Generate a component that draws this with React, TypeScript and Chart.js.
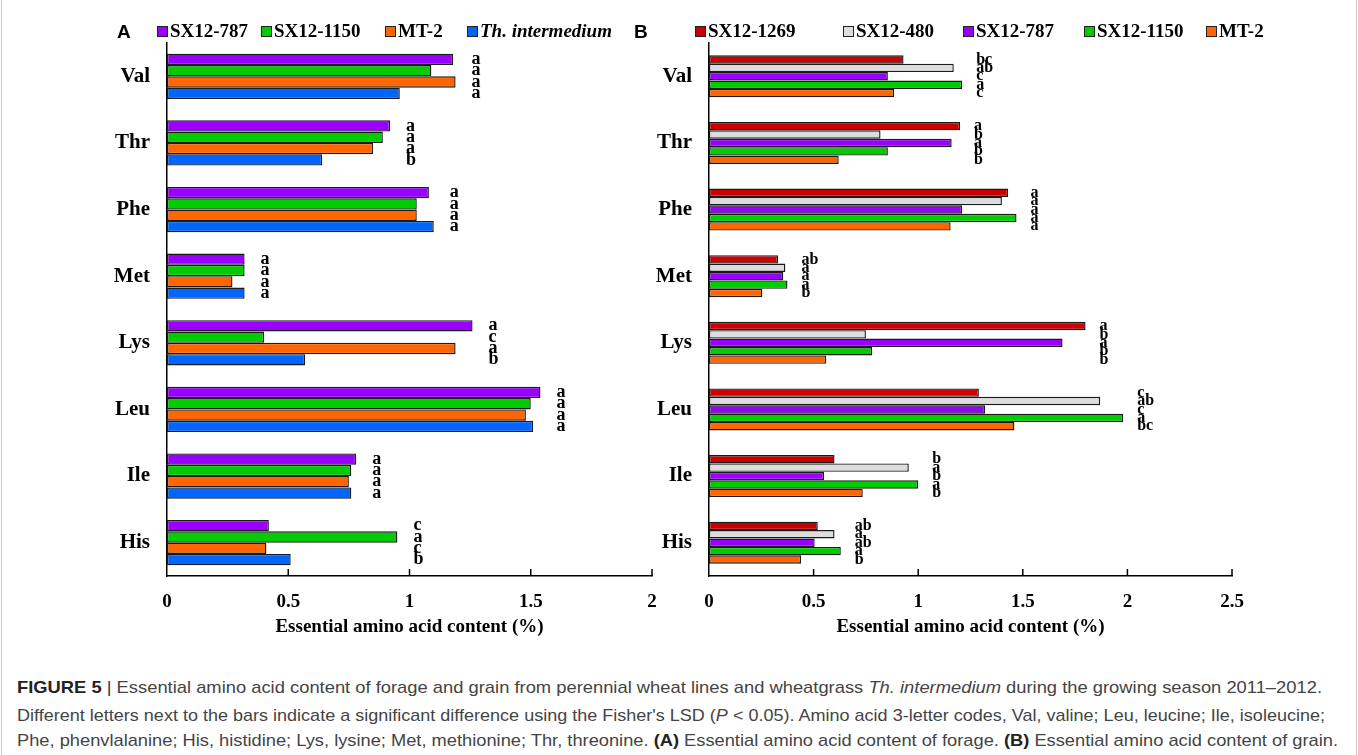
import React, { useEffect, useLayoutEffect, useRef } from 'react';
import { Chart, registerables } from 'chart.js';

Chart.register(...registerables);

// ---------- data ----------
const categories = ['Val', 'Thr', 'Phe', 'Met', 'Lys', 'Leu', 'Ile', 'His'];

// Panel A (forage)
const forageSX787 = [1.18, 0.92, 1.08, 0.32, 1.26, 1.54, 0.78, 0.42];
const forageSX1150 = [1.09, 0.89, 1.03, 0.32, 0.40, 1.50, 0.76, 0.95];
const forageMT2 = [1.19, 0.85, 1.03, 0.27, 1.19, 1.48, 0.75, 0.41];
const forageTh = [0.96, 0.64, 1.10, 0.32, 0.57, 1.51, 0.76, 0.51];

const forageSX787Letters = ['a', 'a', 'a', 'a', 'a', 'a', 'a', 'c'];
const forageSX1150Letters = ['a', 'a', 'a', 'a', 'c', 'a', 'a', 'a'];
const forageMT2Letters = ['a', 'a', 'a', 'a', 'a', 'a', 'a', 'c'];
const forageThLetters = ['a', 'b', 'a', 'a', 'b', 'a', 'a', 'b'];

// Panel B (grain)
const grainSX1269 = [0.93, 1.20, 1.43, 0.33, 1.80, 1.29, 0.60, 0.52];
const grainSX480 = [1.17, 0.82, 1.40, 0.365, 0.75, 1.87, 0.955, 0.60];
const grainSX787 = [0.855, 1.16, 1.21, 0.355, 1.69, 1.32, 0.55, 0.505];
const grainSX1150 = [1.21, 0.855, 1.47, 0.375, 0.78, 1.98, 1.00, 0.63];
const grainMT2 = [0.885, 0.62, 1.155, 0.255, 0.56, 1.46, 0.735, 0.44];

const grainSX1269Letters = ['bc', 'a', 'a', 'ab', 'a', 'c', 'b', 'ab'];
const grainSX480Letters = ['ab', 'b', 'a', 'a', 'b', 'ab', 'a', 'a'];
const grainSX787Letters = ['c', 'a', 'a', 'a', 'a', 'c', 'b', 'ab'];
const grainSX1150Letters = ['a', 'b', 'a', 'a', 'b', 'a', 'a', 'a'];
const grainMT2Letters = ['c', 'b', 'a', 'b', 'b', 'bc', 'b', 'b'];

const xTicksA = [0, 0.5, 1, 1.5, 2];
const xTicksB = [0, 0.5, 1, 1.5, 2, 2.5];

const axisTitle = 'Essential amino acid content (%)';

// ---------- styles ----------
const PURPLE = '#9900FF';
const GREEN = '#00CC00';
const ORANGE = '#FF6600';
const BLUE = '#0066FF';
const RED = '#CC0000';
const GRAY = '#DDDDDD';

const SERIF = "'Liberation Serif', 'Times New Roman', serif";

type Series = { label: string; data: number[]; letters: string[]; color: string; italic?: boolean };

const seriesA: Series[] = [
  { label: 'SX12-787', data: forageSX787, letters: forageSX787Letters, color: PURPLE },
  { label: 'SX12-1150', data: forageSX1150, letters: forageSX1150Letters, color: GREEN },
  { label: 'MT-2', data: forageMT2, letters: forageMT2Letters, color: ORANGE },
  { label: 'Th. intermedium', data: forageTh, letters: forageThLetters, color: BLUE, italic: true },
];

const seriesB: Series[] = [
  { label: 'SX12-1269', data: grainSX1269, letters: grainSX1269Letters, color: RED },
  { label: 'SX12-480', data: grainSX480, letters: grainSX480Letters, color: GRAY },
  { label: 'SX12-787', data: grainSX787, letters: grainSX787Letters, color: PURPLE },
  { label: 'SX12-1150', data: grainSX1150, letters: grainSX1150Letters, color: GREEN },
  { label: 'MT-2', data: grainMT2, letters: grainMT2Letters, color: ORANGE },
];

type PanelCfg = {
  series: Series[];
  ticks: number[];
  yAxisWidth: number;
  padRight: number;
  catPct: number;
  letterOffset: number;
  letterSize: number;
};

function buildChart(canvas: HTMLCanvasElement, cfg: PanelCfg) {
  const innerTicks = {
    id: 'innerTicks',
    afterDraw(chart: any) {
      const { ctx, chartArea } = chart;
      const xs = chart.scales.x;
      ctx.save();
      ctx.strokeStyle = '#000';
      ctx.lineWidth = 1.5;
      cfg.ticks.forEach((t) => {
        if (t === 0) return;
        const px = xs.getPixelForValue(t);
        ctx.beginPath();
        ctx.moveTo(px, chartArea.bottom);
        ctx.lineTo(px, chartArea.bottom - 7);
        ctx.stroke();
      });
      ctx.restore();
    },
  };

  const letterPlugin = {
    id: 'sigLetters',
    afterDatasetsDraw(chart: any) {
      const { ctx } = chart;
      ctx.save();
      ctx.fillStyle = '#000';
      ctx.font = `bold ${cfg.letterSize}px ${SERIF}`;
      ctx.textAlign = 'left';
      ctx.textBaseline = 'middle';
      categories.forEach((_, j) => {
        let maxX = 0;
        cfg.series.forEach((_, i) => {
          const el = chart.getDatasetMeta(i).data[j];
          if (el && el.x > maxX) maxX = el.x;
        });
        cfg.series.forEach((s, i) => {
          const el = chart.getDatasetMeta(i).data[j];
          ctx.fillText(s.letters[j], maxX + cfg.letterOffset, el.y);
        });
      });
      ctx.restore();
    },
  };

  return new Chart(canvas, {
    type: 'bar',
    data: {
      labels: categories,
      datasets: cfg.series.map((s) => ({
        label: s.label,
        data: s.data,
        backgroundColor: s.color,
        borderColor: '#1a1a1a',
        borderWidth: 1.4,
        borderSkipped: false,
        barPercentage: 1,
        categoryPercentage: cfg.catPct,
      })),
    },
    options: {
      indexAxis: 'y',
      responsive: false,
      animation: false,
      layout: { padding: { top: 43, right: cfg.padRight, left: 0, bottom: 0 } },
      plugins: { legend: { display: false }, tooltip: { enabled: false } },
      scales: {
        x: {
          type: 'linear',
          min: 0,
          max: cfg.ticks[cfg.ticks.length - 1],
          afterBuildTicks: (scale: any) => {
            scale.ticks = cfg.ticks.map((v) => ({ value: v }));
          },
          ticks: {
            padding: 15,
            color: '#000',
            font: { family: SERIF, weight: 'bold', size: 19 },
            callback: (v: any) => String(v),
          },
          grid: { display: false, drawTicks: false },
          border: { display: true, color: '#000', width: 1.5 },
          title: {
            display: true,
            text: axisTitle,
            color: '#000',
            font: { family: SERIF, weight: 'bold', size: 19 },
            padding: { top: 0, bottom: 12 },
          },
          afterFit: (s: any) => {
            s.height = 74;
          },
        },
        y: {
          type: 'category',
          ticks: {
            padding: 17,
            color: '#000',
            font: { family: SERIF, weight: 'bold', size: 21 },
          },
          grid: { display: false, drawTicks: false },
          border: { display: true, color: '#000', width: 1.5 },
          afterFit: (s: any) => {
            s.width = cfg.yAxisWidth;
          },
        },
      },
    } as any,
    plugins: [innerTicks, letterPlugin],
  });
}

const legendA = [157, 261, 385, 467];
const legendB = [695, 843, 963, 1084, 1206];

function Legend({ series, xs }: { series: Series[]; xs: number[] }) {
  return (
    <>
      {series.map((s, i) => (
        <div
          key={s.label + i}
          style={{
            position: 'absolute',
            left: xs[i],
            top: 19,
            height: 24,
            display: 'flex',
            alignItems: 'center',
            fontFamily: SERIF,
            fontWeight: 'bold',
            fontStyle: s.italic ? 'italic' : 'normal',
            fontSize: 19,
            color: '#000',
            whiteSpace: 'nowrap',
          }}
        >
          <span
            style={{
              display: 'inline-block',
              width: 9,
              height: 9,
              background: s.color,
              border: '1px solid #222',
              marginRight: 2,
              marginTop: 1,
            }}
          />
          {s.label}
        </div>
      ))}
    </>
  );
}

const captionTargets = [1305, 1308, 1321];

export default function App() {
  const refA = useRef<HTMLCanvasElement>(null);
  const refB = useRef<HTMLCanvasElement>(null);
  const capRefs = [useRef<HTMLDivElement>(null), useRef<HTMLDivElement>(null), useRef<HTMLDivElement>(null)];

  useLayoutEffect(() => {
    capRefs.forEach((r, i) => {
      const el = r.current;
      if (!el) return;
      el.style.transform = 'none';
      const w = el.getBoundingClientRect().width;
      if (w > 0) el.style.transform = `scaleX(${captionTargets[i] / w})`;
    });
  }, []);

  useEffect(() => {
    const a = buildChart(refA.current!, {
      series: seriesA,
      ticks: xTicksA,
      yAxisWidth: 167,
      padRight: 28,
      catPct: 0.68,
      letterOffset: 16,
      letterSize: 18,
    });
    const b = buildChart(refB.current!, {
      series: seriesB,
      ticks: xTicksB,
      yAxisWidth: 109,
      padRight: 126,
      catPct: 0.63,
      letterOffset: 14,
      letterSize: 16,
    });
    return () => {
      a.destroy();
      b.destroy();
    };
  }, []);

  const capStyle: React.CSSProperties = {
    position: 'absolute',
    left: 17,
    fontFamily: "'Liberation Sans', Arial, sans-serif",
    fontSize: 17,
    color: '#444',
    whiteSpace: 'nowrap',
    lineHeight: '20px',
    transformOrigin: '0 0',
  };

  return (
    <div style={{ position: 'absolute', left: 0, top: 0, width: 1358, height: 755, background: '#fff', overflow: 'hidden' }}>
      <div style={{ position: 'absolute', left: 1, top: 0, width: 1354, height: 755, borderLeft: '1px solid #c8c8c8', borderRight: '1px solid #c8c8c8' }} />
      <canvas ref={refA} width={680} height={650} style={{ position: 'absolute', left: 0, top: 0 }} />
      <canvas ref={refB} width={758} height={650} style={{ position: 'absolute', left: 600, top: 0 }} />
      <div style={{ position: 'absolute', left: 117, top: 20, fontFamily: "'Liberation Sans', Arial, sans-serif", fontWeight: 'bold', fontSize: 19, lineHeight: '24px' }}>A</div>
      <div style={{ position: 'absolute', left: 634, top: 20, fontFamily: "'Liberation Sans', Arial, sans-serif", fontWeight: 'bold', fontSize: 19, lineHeight: '24px' }}>B</div>
      <Legend series={seriesA} xs={legendA} />
      <Legend series={seriesB} xs={legendB} />
      <div ref={capRefs[0]} style={{ ...capStyle, top: 678 }}>
        <b style={{ color: '#222' }}>FIGURE 5</b> <span style={{ color: '#333' }}>|</span> Essential amino acid content of forage and grain from perennial wheat lines and wheatgrass <i>Th. intermedium</i> during the growing season 2011–2012.
      </div>
      <div ref={capRefs[1]} style={{ ...capStyle, top: 706 }}>
        Different letters next to the bars indicate a significant difference using the Fisher's LSD (<i>P</i> &lt; 0.05). Amino acid 3-letter codes, Val, valine; Leu, leucine; Ile, isoleucine;
      </div>
      <div ref={capRefs[2]} style={{ ...capStyle, top: 731 }}>
        Phe, phenvlalanine; His, histidine; Lys, lysine; Met, methionine; Thr, threonine. <b style={{ color: '#222' }}>(A)</b> Essential amino acid content of forage. <b style={{ color: '#222' }}>(B)</b> Essential amino acid content of grain.
      </div>
    </div>
  );
}
